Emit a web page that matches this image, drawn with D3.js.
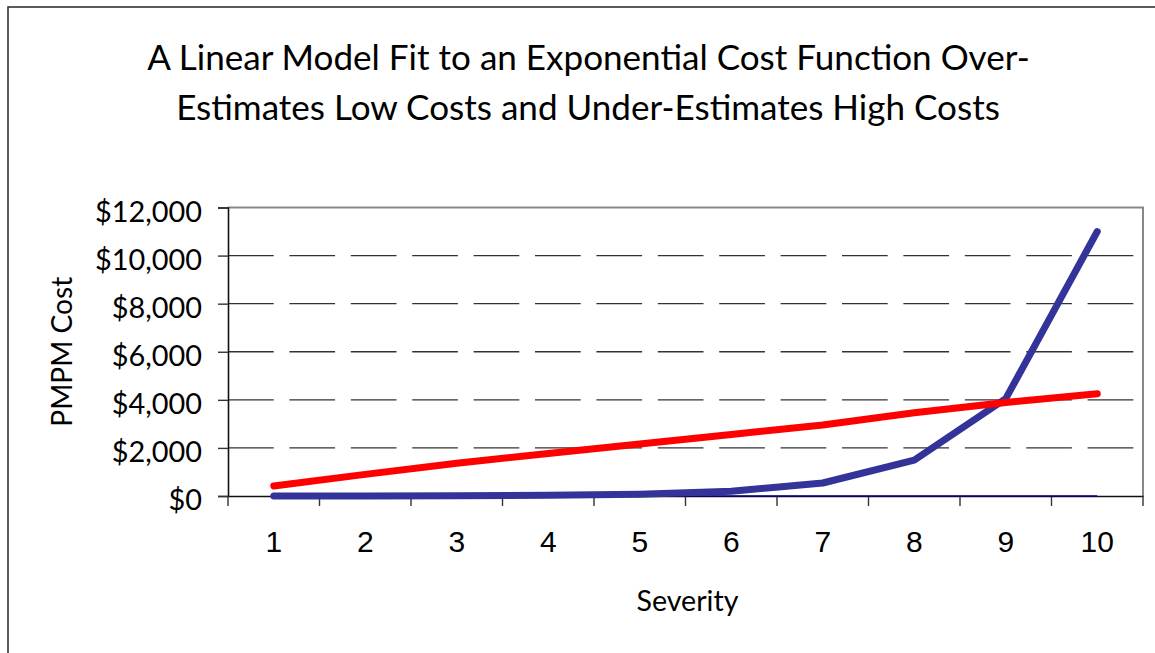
<!DOCTYPE html>
<html>
<head>
<meta charset="utf-8">
<script src="https://cdn.jsdelivr.net/npm/d3@7"></script>
<style>
  html, body { margin: 0; padding: 0; background: #fff; }
  svg { display: block; }
</style>
</head>
<body>
<svg id="chart" width="1155" height="653"></svg>
<script>
// Severity levels and PMPM cost series
const severity = ["1", "2", "3", "4", "5", "6", "7", "8", "9", "10"];
const exponentialCost = [2, 5, 10, 30, 75, 200, 540, 1490, 4050, 11000];
const linearFit = [420, 900, 1360, 1770, 2160, 2560, 2950, 3460, 3890, 4250];
const baseline = [0, 0, 0, 0, 0, 0, 0, 0, 0, 0];
const yTicks = [0, 2000, 4000, 6000, 8000, 10000, 12000];
const titleLines = [
  "A Linear Model Fit to an Exponential Cost Function Over-",
  "Estimates Low Costs and Under-Estimates High Costs"
];

const svg = d3.select("#chart");
const W = 1155, H = 653;
const plot = { left: 228, right: 1143, top: 207.5, bottom: 496 };
const labelFont = "Lato, 'Open Sans', sans-serif";

// scale a text element's font size so it spans the given width
function fitWidth(sel, target) {
  const len = sel.node().getComputedTextLength();
  const fs = parseFloat(sel.attr("font-size"));
  sel.attr("font-size", fs * target / len);
  return fs * target / len;
}

// outer chart frame
svg.append("rect")
  .attr("x", 8).attr("y", 7)
  .attr("width", W + 20).attr("height", H + 20)
  .attr("fill", "#fff")
  .attr("stroke", "#333").attr("stroke-width", 1.6);

const x = d3.scaleBand().domain(severity).range([plot.left, plot.right]).padding(0);
const y = d3.scaleLinear().domain([0, 12000]).range([plot.bottom, plot.top]);
const cx = d => x(d) + x.bandwidth() / 2;

// dashed horizontal gridlines
svg.append("g")
  .selectAll("line")
  .data(yTicks.filter(t => t > 0 && t < 12000))
  .join("line")
  .attr("x1", plot.left).attr("x2", plot.right)
  .attr("y1", d => y(d)).attr("y2", d => y(d))
  .attr("stroke", "#333").attr("stroke-width", 1.3)
  .attr("stroke-dasharray", "45.7,15.7");

// plot frame (top and right edges)
svg.append("path")
  .attr("d", `M${plot.left},${plot.top}H${plot.right}V${plot.bottom}`)
  .attr("fill", "none").attr("stroke", "#888").attr("stroke-width", 2);

// y axis
const yAxis = svg.append("g")
  .attr("transform", `translate(${plot.left},0)`)
  .call(d3.axisLeft(y).tickValues(yTicks).tickSize(10).tickPadding(0).tickFormat(() => ""));
yAxis.select(".domain").attr("stroke", "#111").attr("stroke-width", 1.6);
yAxis.selectAll(".tick line").attr("stroke", "#333").attr("stroke-width", 1.4);

// x axis with ticks on category boundaries
const xAxis = svg.append("g")
  .attr("transform", `translate(0,${plot.bottom})`)
  .call(d3.axisBottom(x).tickSize(0).tickFormat(() => ""));
xAxis.select(".domain").attr("stroke", "#111").attr("stroke-width", 1.6);
xAxis.selectAll(".tick").remove();
const edges = severity.map(d => x(d)).concat([x(severity[severity.length - 1]) + x.bandwidth()]);
svg.append("g").selectAll("line").data(edges).join("line")
  .attr("x1", d => d).attr("x2", d => d)
  .attr("y1", plot.bottom).attr("y2", plot.bottom + 10)
  .attr("stroke", "#333").attr("stroke-width", 1.4);

// y tick labels
const yFmt = d => "$" + d3.format(",")(d);
const yLabels = svg.append("g").selectAll("text").data(yTicks).join("text")
  .attr("x", 202).attr("y", d => y(d) + 4)
  .attr("dy", "0.35em")
  .attr("text-anchor", "end")
  .attr("font-family", labelFont)
  .attr("font-size", 28)
  .attr("fill", "#000")
  .text(yFmt);
const topLabel = yLabels.filter(d => d === 12000);
const yfs = fitWidth(topLabel, 107);
yLabels.attr("font-size", yfs);

// x tick labels
svg.append("g").selectAll("text").data(severity).join("text")
  .attr("x", d => cx(d)).attr("y", 552)
  .attr("text-anchor", "middle")
  .attr("font-family", "'Liberation Sans', Arial, sans-serif")
  .attr("font-size", 30)
  .attr("fill", "#000")
  .text(d => d);

// axis titles
const yTitle = svg.append("text")
  .attr("transform", `translate(72,${(plot.top + plot.bottom) / 2}) rotate(-90)`)
  .attr("text-anchor", "middle")
  .attr("font-family", labelFont)
  .attr("font-size", 28)
  .attr("fill", "#000")
  .text("PMPM Cost");
fitWidth(yTitle, 150);

const xTitle = svg.append("text")
  .attr("x", (plot.left + plot.right) / 2 + 2).attr("y", 611)
  .attr("text-anchor", "middle")
  .attr("font-family", labelFont)
  .attr("font-size", 28)
  .attr("fill", "#000")
  .text("Severity");
fitWidth(xTitle, 102);

// chart title
const t1 = svg.append("text")
  .attr("x", 588.5).attr("y", 70)
  .attr("text-anchor", "middle")
  .attr("font-family", labelFont)
  .attr("font-size", 36)
  .attr("fill", "#000")
  .text(titleLines[0]);
const tfs = fitWidth(t1, 883);
svg.append("text")
  .attr("x", 588).attr("y", 120)
  .attr("text-anchor", "middle")
  .attr("font-family", labelFont)
  .attr("font-size", tfs)
  .attr("fill", "#000")
  .text(titleLines[1]);

// series lines
const line = d3.line().x((d, i) => cx(severity[i])).y(d => y(d));

svg.append("path")
  .datum(baseline)
  .attr("d", line)
  .attr("fill", "none")
  .attr("stroke", "#000080").attr("stroke-width", 1.6);

svg.append("path")
  .datum(exponentialCost)
  .attr("d", line)
  .attr("fill", "none")
  .attr("stroke", "#333399").attr("stroke-width", 7)
  .attr("stroke-linejoin", "round").attr("stroke-linecap", "round");

svg.append("path")
  .datum(linearFit)
  .attr("d", line)
  .attr("fill", "none")
  .attr("stroke", "#ff0000").attr("stroke-width", 7)
  .attr("stroke-linejoin", "round").attr("stroke-linecap", "round");
</script>
</body>
</html>
